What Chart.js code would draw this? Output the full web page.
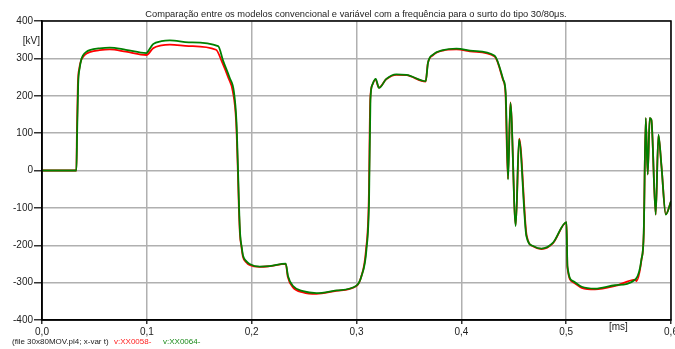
<!DOCTYPE html>
<html><head><meta charset="utf-8">
<script src="https://cdn.jsdelivr.net/npm/chart.js@4/dist/chart.umd.min.js"></script>
<style>html,body{margin:0;padding:0;background:#fff;}canvas{display:block;}</style>
</head><body>
<canvas id="c" width="675" height="349"></canvas>
<script>
const titleText = "Comparação entre os modelos convencional e variável com a frequência para o surto do tipo 30/80μs.";
const xTickValues = [0, 0.1, 0.2, 0.3, 0.4, 0.5, 0.6];
const yTickValues = [-400, -300, -200, -100, 0, 100, 200, 300, 400];
const seriesNames = ["v:XX0058-", "v:XX0064-"];

// v:XX0064- (green), time in ms, voltage in kV
const timeGreen = [0,0.0328,0.0335,0.0345,0.036,0.0376,0.0391,0.0425,0.0455,0.055,0.0646,0.08,0.0996,0.101,0.106,0.114,0.122,0.14,0.168,0.1727,0.179,0.183,0.1855,0.187,0.188,0.189,0.1905,0.1918,0.195,0.198,0.2077,0.2172,0.2325,0.2347,0.2395,0.249,0.2618,0.2809,0.30,0.3047,0.3095,0.312,0.3133,0.3152,0.3183,0.3215,0.3285,0.338,0.3476,0.366,0.3682,0.373,0.3825,0.3953,0.4111,0.4318,0.44,0.4423,0.4446,0.4468,0.4519,0.455,0.4621,0.4684,0.4764,0.4875,0.5003,0.5012,0.5066,0.5149,0.5275,0.5466,0.5663,0.5718,0.574,0.5759,0.5778,0.5797,0.5813,0.5854,0.588,0.5909,0.595,0.6];
const voltGreen = [0,0,100,230,275,298,308,318,322,327,329,323,314,318,338,346,348,343,333,294,248,212,130,0,-100,-170,-205,-228,-243,-250,-257,-256,-249,-283,-309,-323,-328,-321,-308,-283,-211,-78,190,230,245,221,245,257,256,239,288,310,322,326,320,307,243,208,-24,181,-149,83,-176,-202,-209,-193,-138,-256,-296,-311,-316,-307,-291,-238,-167,141,-11,141,136,-118,96,12,-118,-82];

// v:XX0058- (red)
const timeRed = [0,0.0328,0.0333,0.0342,0.0357,0.0373,0.0391,0.0425,0.0455,0.055,0.0646,0.08,0.0996,0.101,0.106,0.114,0.122,0.14,0.166,0.1715,0.178,0.182,0.1852,0.1868,0.1878,0.1888,0.1903,0.1916,0.195,0.198,0.2077,0.2172,0.2325,0.2345,0.2392,0.249,0.2618,0.2809,0.2995,0.3042,0.309,0.3117,0.3131,0.315,0.3181,0.3213,0.3283,0.338,0.3476,0.366,0.368,0.3728,0.3825,0.3953,0.4111,0.4318,0.4398,0.4421,0.4444,0.4468,0.4519,0.4552,0.4623,0.4684,0.4764,0.4875,0.5003,0.5012,0.5066,0.5149,0.5275,0.5466,0.5663,0.5668,0.5718,0.574,0.5759,0.5778,0.5797,0.5813,0.5854,0.588,0.5909,0.595,0.6];
const voltRed = [0,0,100,230,275,295,304,313,317,322,324,318,309,311,327,335,337,333,323,292,246,212,130,0,-100,-170,-205,-230,-246,-253,-258,-256,-250,-285,-312,-326,-330,-322,-310,-287,-214,-80,188,228,244,222,244,256,255,238,286,308,321,324,318,305,242,207,-22,182,-146,85,-174,-203,-210,-194,-139,-260,-299,-314,-318,-309,-292,-296,-240,-168,140,-10,140,135,-118,94,12,-117,-83];

function toPts(ts, vs){ return ts.map((t,i)=>({x:t,y:vs[i]})); }

const texts = {
  id:'texts',
  afterDraw(chart){
    const ctx = chart.ctx, a = chart.chartArea;
    ctx.save();
    ctx.strokeStyle = '#000'; ctx.lineWidth = 1.5;
    ctx.strokeRect(a.left, a.top, a.right-a.left, a.bottom-a.top);
    ctx.fillStyle = '#222';
    ctx.font = '9.3px "Liberation Sans", Arial, sans-serif';
    ctx.textBaseline = 'middle';
    ctx.textAlign = 'center';
    ctx.fillText(titleText, 356, 14);
    ctx.font = '10px "Liberation Sans", Arial, sans-serif';
    ctx.textAlign = 'right';
    ctx.fillText('[kV]', 40, 41);
    ctx.textAlign = 'left';
    ctx.fillText('[ms]', 609, 327);
    ctx.font = '8px "Liberation Sans", Arial, sans-serif';
    ctx.fillText('(file 30x80MOV.pl4; x-var t)', 12, 342);
    ctx.fillStyle = '#ff2020';
    ctx.fillText(seriesNames[0], 114, 342);
    ctx.fillStyle = '#1a8a1a';
    ctx.fillText(seriesNames[1], 163, 342);
    ctx.restore();
  }
};

new Chart(document.getElementById('c'), {
  type: 'line',
  data: {
    datasets: [
      {label: seriesNames[1], data: toPts(timeGreen, voltGreen), borderColor:'#008000', borderWidth:1.8, pointRadius:0, cubicInterpolationMode:'monotone', order:1},
      {label: seriesNames[0], data: toPts(timeRed, voltRed), borderColor:'#ff0000', borderWidth:1.8, pointRadius:0, cubicInterpolationMode:'monotone', order:2}
    ]
  },
  options: {
    responsive:false, animation:false, devicePixelRatio:1,
    layout:{padding:{top:21, right:4, left:0, bottom:0}},
    plugins:{legend:{display:false}, tooltip:{enabled:false}, title:{display:false}},
    scales:{
      x:{type:'linear', min:0, max:0.6,
        afterBuildTicks(s){ s.ticks = xTickValues.map(v=>({value:v})); },
        afterFit(s){ s.height = 29; s.paddingRight = 0; s.paddingLeft = 0; },
        ticks:{callback:v=>v.toFixed(1).replace('.',','), color:'#222', font:{family:'"Liberation Sans", Arial', size:10}, padding:2, maxRotation:0, autoSkip:false},
        grid:{color:'#b0b0b0', lineWidth:1.5, tickLength:4, tickColor:'#333'},
        border:{color:'#000', width:1.5}
      },
      y:{min:-400, max:400,
        afterBuildTicks(s){ s.ticks = yTickValues.map(v=>({value:v})); },
        afterFit(s){ s.width = 42; s.paddingTop = 0; s.paddingBottom = 0; },
        ticks:{color:'#222', font:{family:'"Liberation Sans", Arial', size:10}, padding:1, autoSkip:false},
        grid:{color:'#b0b0b0', lineWidth:1.5, tickLength:8, tickColor:'#333'},
        border:{color:'#000', width:1.5}
      }
    }
  },
  plugins:[texts]
});
</script>
</body></html>
